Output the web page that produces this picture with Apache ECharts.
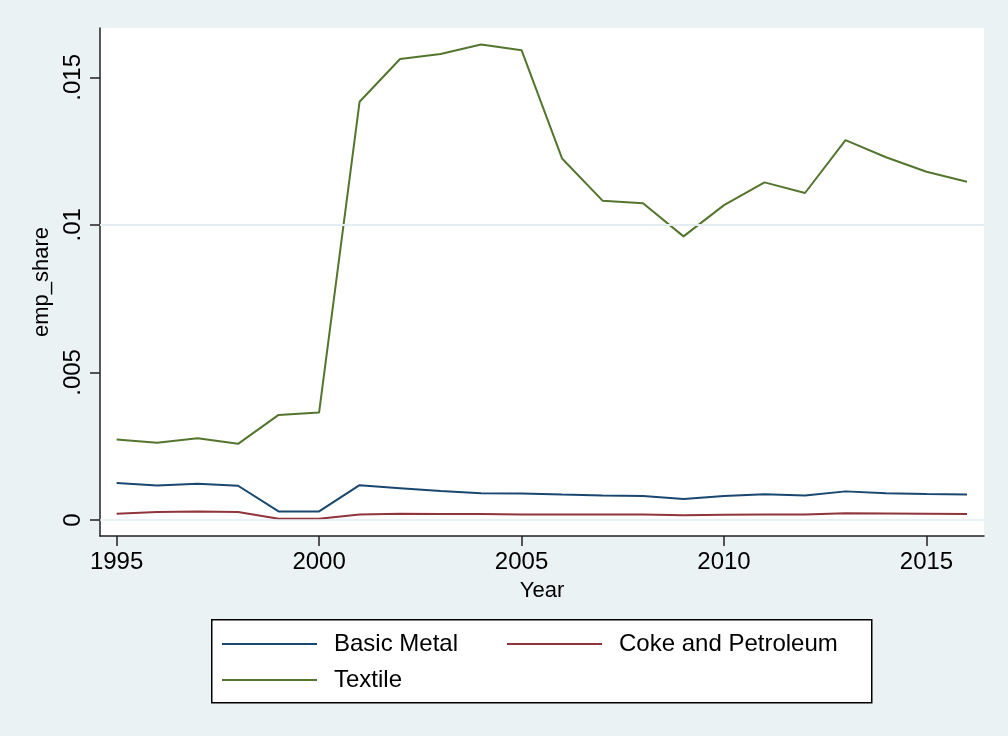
<!DOCTYPE html>
<html>
<head>
<meta charset="utf-8">
<script src="https://cdn.jsdelivr.net/npm/echarts@6/dist/echarts.min.js"></script>
<style>
html,body{margin:0;padding:0;background:#EAF2F3;}
#chart{width:1008px;height:736px;}
</style>
</head>
<body>
<div id="chart"></div>
<script>
const years = [1995,1996,1997,1998,1999,2000,2001,2002,2003,2004,2005,2006,2007,2008,2009,2010,2011,2012,2013,2014,2015,2016];
const basicMetal = [0.00125,0.00117,0.00123,0.00116,0.00029,0.00029,0.00118,0.00108,0.00098,0.00091,0.00090,0.00086,0.00083,0.00081,0.00071,0.00081,0.00087,0.00083,0.00097,0.00091,0.00088,0.00086];
const cokePetroleum = [0.00021,0.00027,0.00029,0.00027,0.00004,0.00004,0.00019,0.00021,0.00020,0.00020,0.00019,0.00019,0.00019,0.00019,0.00016,0.00018,0.00019,0.00019,0.00023,0.00022,0.00021,0.00020];
const textile = [0.00273,0.00262,0.00277,0.00258,0.00356,0.00364,0.01417,0.01562,0.01579,0.01611,0.01592,0.01225,0.01082,0.01073,0.00961,0.01067,0.01144,0.01108,0.01287,0.01229,0.01180,0.01146];
const seriesNames = ['Basic Metal','Coke and Petroleum','Textile'];
const xTicks = [1995,2000,2005,2010,2015];
const yTicks = [0,0.005,0.01,0.015];
const yTickLabels = ['0','.005','.01','.015'];

const colors = ['#1A476F','#90353B','#55752F'];
const allData = [basicMetal, cokePetroleum, textile];

const chart = echarts.init(document.getElementById('chart'));
const font = 'Liberation Sans, Arial, Helvetica, sans-serif';

const series = [{
  type:'line', name:'_grid', data:[], silent:true, z:1,
  markLine:{
    silent:true, symbol:['none','none'], label:{show:false},
    lineStyle:{color:'#E3EDF0', width:1.5, type:'solid'},
    emphasis:{disabled:true},
    data: yTicks.map(v => ({yAxis:v}))
  }
}];
seriesNames.forEach((n,i)=>{
  series.push({
    type:'line', name:n, showSymbol:false, symbol:'none', z:3,
    data: years.map((y,k)=>[y, allData[i][k]]),
    lineStyle:{color:colors[i], width:2},
    itemStyle:{color:colors[i]},
    emphasis:{disabled:true}
  });
});

function legendAt(name, left, top){
  return {
    data:[name], left:left, top:top, padding:0,
    icon:'rect', itemWidth:95, itemHeight:2,
    selectedMode:false,
    textStyle:{fontFamily:font, fontSize:24, color:'#000', padding:[0,0,0,12]}
  };
}

chart.setOption({
  backgroundColor:'#EAF2F3',
  animation:false,
  grid:{left:100, top:28, right:24, bottom:200, show:true, backgroundColor:'#fff', borderWidth:0},
  xAxis:{
    type:'value', min:1994.59, max:2016.42,
    name:'Year', nameLocation:'middle', nameGap:44,
    nameTextStyle:{fontFamily:font, fontSize:22, color:'#000'},
    axisLine:{show:true, onZero:false, lineStyle:{color:'#222', width:1.5}},
    axisTick:{show:true, length:10, customValues:xTicks, lineStyle:{color:'#222', width:1.5}},
    axisLabel:{customValues:xTicks, fontFamily:font, fontSize:24, color:'#000', margin:14,
      formatter:function(v){ return String(Math.round(v)); }},
    splitLine:{show:false}
  },
  yAxis:{
    type:'value', min:-0.000542, max:0.01667,
    name:'emp_share', nameLocation:'middle', nameGap:36,
    nameTextStyle:{fontFamily:font, fontSize:22, color:'#000'},
    axisLine:{show:true, onZero:false, lineStyle:{color:'#222', width:1.5}},
    axisTick:{show:true, length:10, customValues:yTicks, lineStyle:{color:'#222', width:1.5}},
    axisLabel:{customValues:yTicks, rotate:90, fontFamily:font, fontSize:24, color:'#000', margin:15,
      formatter:function(v){
        for (let i=0;i<yTicks.length;i++){ if (Math.abs(yTicks[i]-v)<1e-9) return yTickLabels[i]; }
        return '';
      }},
    splitLine:{show:false}
  },
  legend:[
    legendAt(seriesNames[0], 222, 632),
    legendAt(seriesNames[1], 507, 632),
    legendAt(seriesNames[2], 222, 668)
  ],
  graphic:[{
    type:'rect', left:211, top:619, z:-1,
    shape:{width:660, height:83},
    style:{fill:'#fff', stroke:'#000', lineWidth:1.5}
  }],
  series:series
});
</script>
</body>
</html>
